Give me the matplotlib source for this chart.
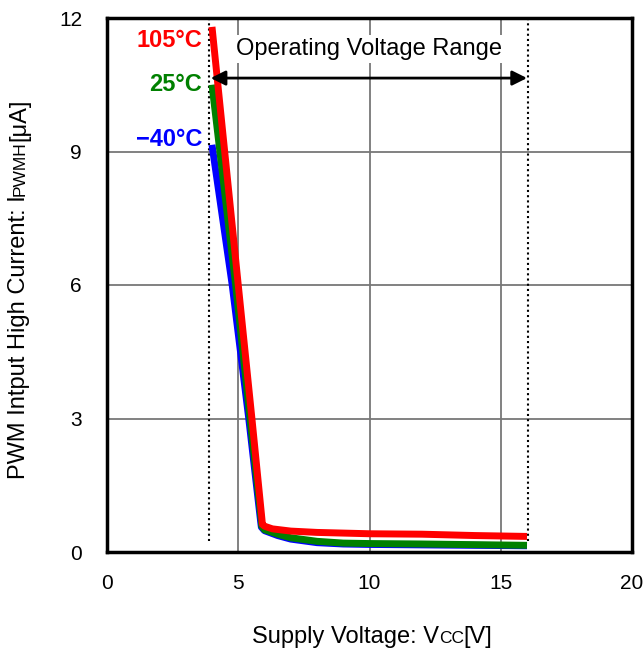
import matplotlib
matplotlib.use("Agg")
import matplotlib.pyplot as plt
from matplotlib.transforms import offset_copy

plt.rcParams['font.family'] = ['Liberation Sans', 'DejaVu Sans']

# Data
v_105 = [4.0, 5.0, 5.52, 5.9, 5.92, 6.0, 6.3, 7.0, 8.0, 10.0, 12.0, 14.0, 16.0]
i_105 = [11.8, 6.0, 3.0, 0.75, 0.62, 0.58, 0.52, 0.47, 0.44, 0.41, 0.40, 0.37, 0.35]
v_25 = [4.0, 4.9, 5.45, 5.88, 5.9, 6.0, 6.5, 7.0, 8.0, 9.0, 10.0, 12.0, 16.0]
i_25 = [10.5, 6.0, 3.0, 0.7, 0.58, 0.5, 0.4, 0.32, 0.24, 0.2, 0.19, 0.18, 0.15]
v_m40 = [4.0, 4.77, 5.4, 5.85, 5.88, 6.0, 6.5, 7.0, 8.0, 9.0, 10.0, 12.0, 16.0]
i_m40 = [9.15, 6.0, 3.0, 0.7, 0.56, 0.48, 0.37, 0.29, 0.21, 0.18, 0.17, 0.16, 0.14]

temps = ["105°C", "25°C", "\u221240°C"]
colors = ["#ff0000", "#008000", "#0000ff"]
label_y = [11.5, 10.5, 9.26]

x_ticks = [0, 5, 10, 15, 20]
y_ticks = [0, 3, 6, 9, 12]
range_lo, range_hi = 3.9, 16.05

fig = plt.figure(figsize=(6.43, 6.55), dpi=100)
ax = fig.add_axes([107/643, 1-552/655, (632-107)/643, (552-18)/655])
ax.set_xlim(0, 20)
ax.set_ylim(0, 12)
ax.set_xticks(x_ticks)
ax.set_yticks(y_ticks)
ax.tick_params(length=0, labelsize=15)
ax.tick_params(axis='x', pad=16)
ax.tick_params(axis='y', pad=18)
ax.grid(True, color='#777777', linewidth=1.3)
ax.set_axisbelow(True)
for s in ax.spines.values():
    s.set_linewidth(2.5)

# dotted range lines
for xv in (range_lo, range_hi):
    ax.axvline(xv, ymin=0.02, ymax=1.0, color='black', linestyle=(0, (1, 1.5)), linewidth=1.5, zorder=3)

series = [(v_m40, i_m40), (v_25, i_25), (v_105, i_105)]
for (vx, iy), c in zip(series, colors[::-1]):
    ax.plot(vx, iy, color=c, linewidth=5, solid_joinstyle='round', solid_capstyle='butt', zorder=4)

for t, c, yv in zip(temps, colors, label_y):
    ax.text(3.62, yv, t, color=c, fontsize=17, fontweight='bold', ha='right', va='center', zorder=5)

ax.annotate('', xy=(range_lo + 0.05, 10.65), xytext=(range_hi - 0.05, 10.65),
            arrowprops=dict(arrowstyle='<|-|>', color='black', lw=2.0, mutation_scale=22,
                            shrinkA=0, shrinkB=0), zorder=5)
ax.text(10, 11.3, 'Operating Voltage Range', fontsize=17, ha='center', va='center',
        bbox=dict(facecolor='white', edgecolor='none', pad=2), zorder=5)

# Axis labels with small-caps subscripts
fig.canvas.draw()
r = fig.canvas.get_renderer()

def seq_text(parts, x, y, rotation=0):
    tr = fig.transFigure
    offset = 0.0
    made = []
    for txt, size in parts:
        if rotation == 0:
            t = fig.text(x, y, txt, fontsize=size, ha='left', va='baseline',
                         transform=offset_copy(tr, fig=fig, x=offset, y=0, units='dots'))
        else:
            t = fig.text(x, y, txt, fontsize=size, ha='left', va='baseline', rotation=90,
                         rotation_mode='anchor',
                         transform=offset_copy(tr, fig=fig, x=0, y=offset, units='dots'))
        made.append(t)
        bb = t.get_window_extent(renderer=r)
        offset += bb.width if rotation == 0 else bb.height
    return offset, made

xparts = [("Supply Voltage: V", 17), ("CC", 12.5), ("[V]", 17)]
w, tmp = seq_text(xparts, 0.5, 0.5)
for t in tmp:
    t.remove()
seq_text(xparts, (372 - w/2)/643, 1 - 643/655)

yparts = [("PWM Intput High Current: I", 17), ("PWMH", 12.5), ("[\u03bcA]", 17)]
h, tmp = seq_text(yparts, 0.5, 0.5, rotation=90)
for t in tmp:
    t.remove()
seq_text(yparts, 25/643, 1 - (289 + h/2)/655, rotation=90)

fig.savefig("out.png", dpi=100)
